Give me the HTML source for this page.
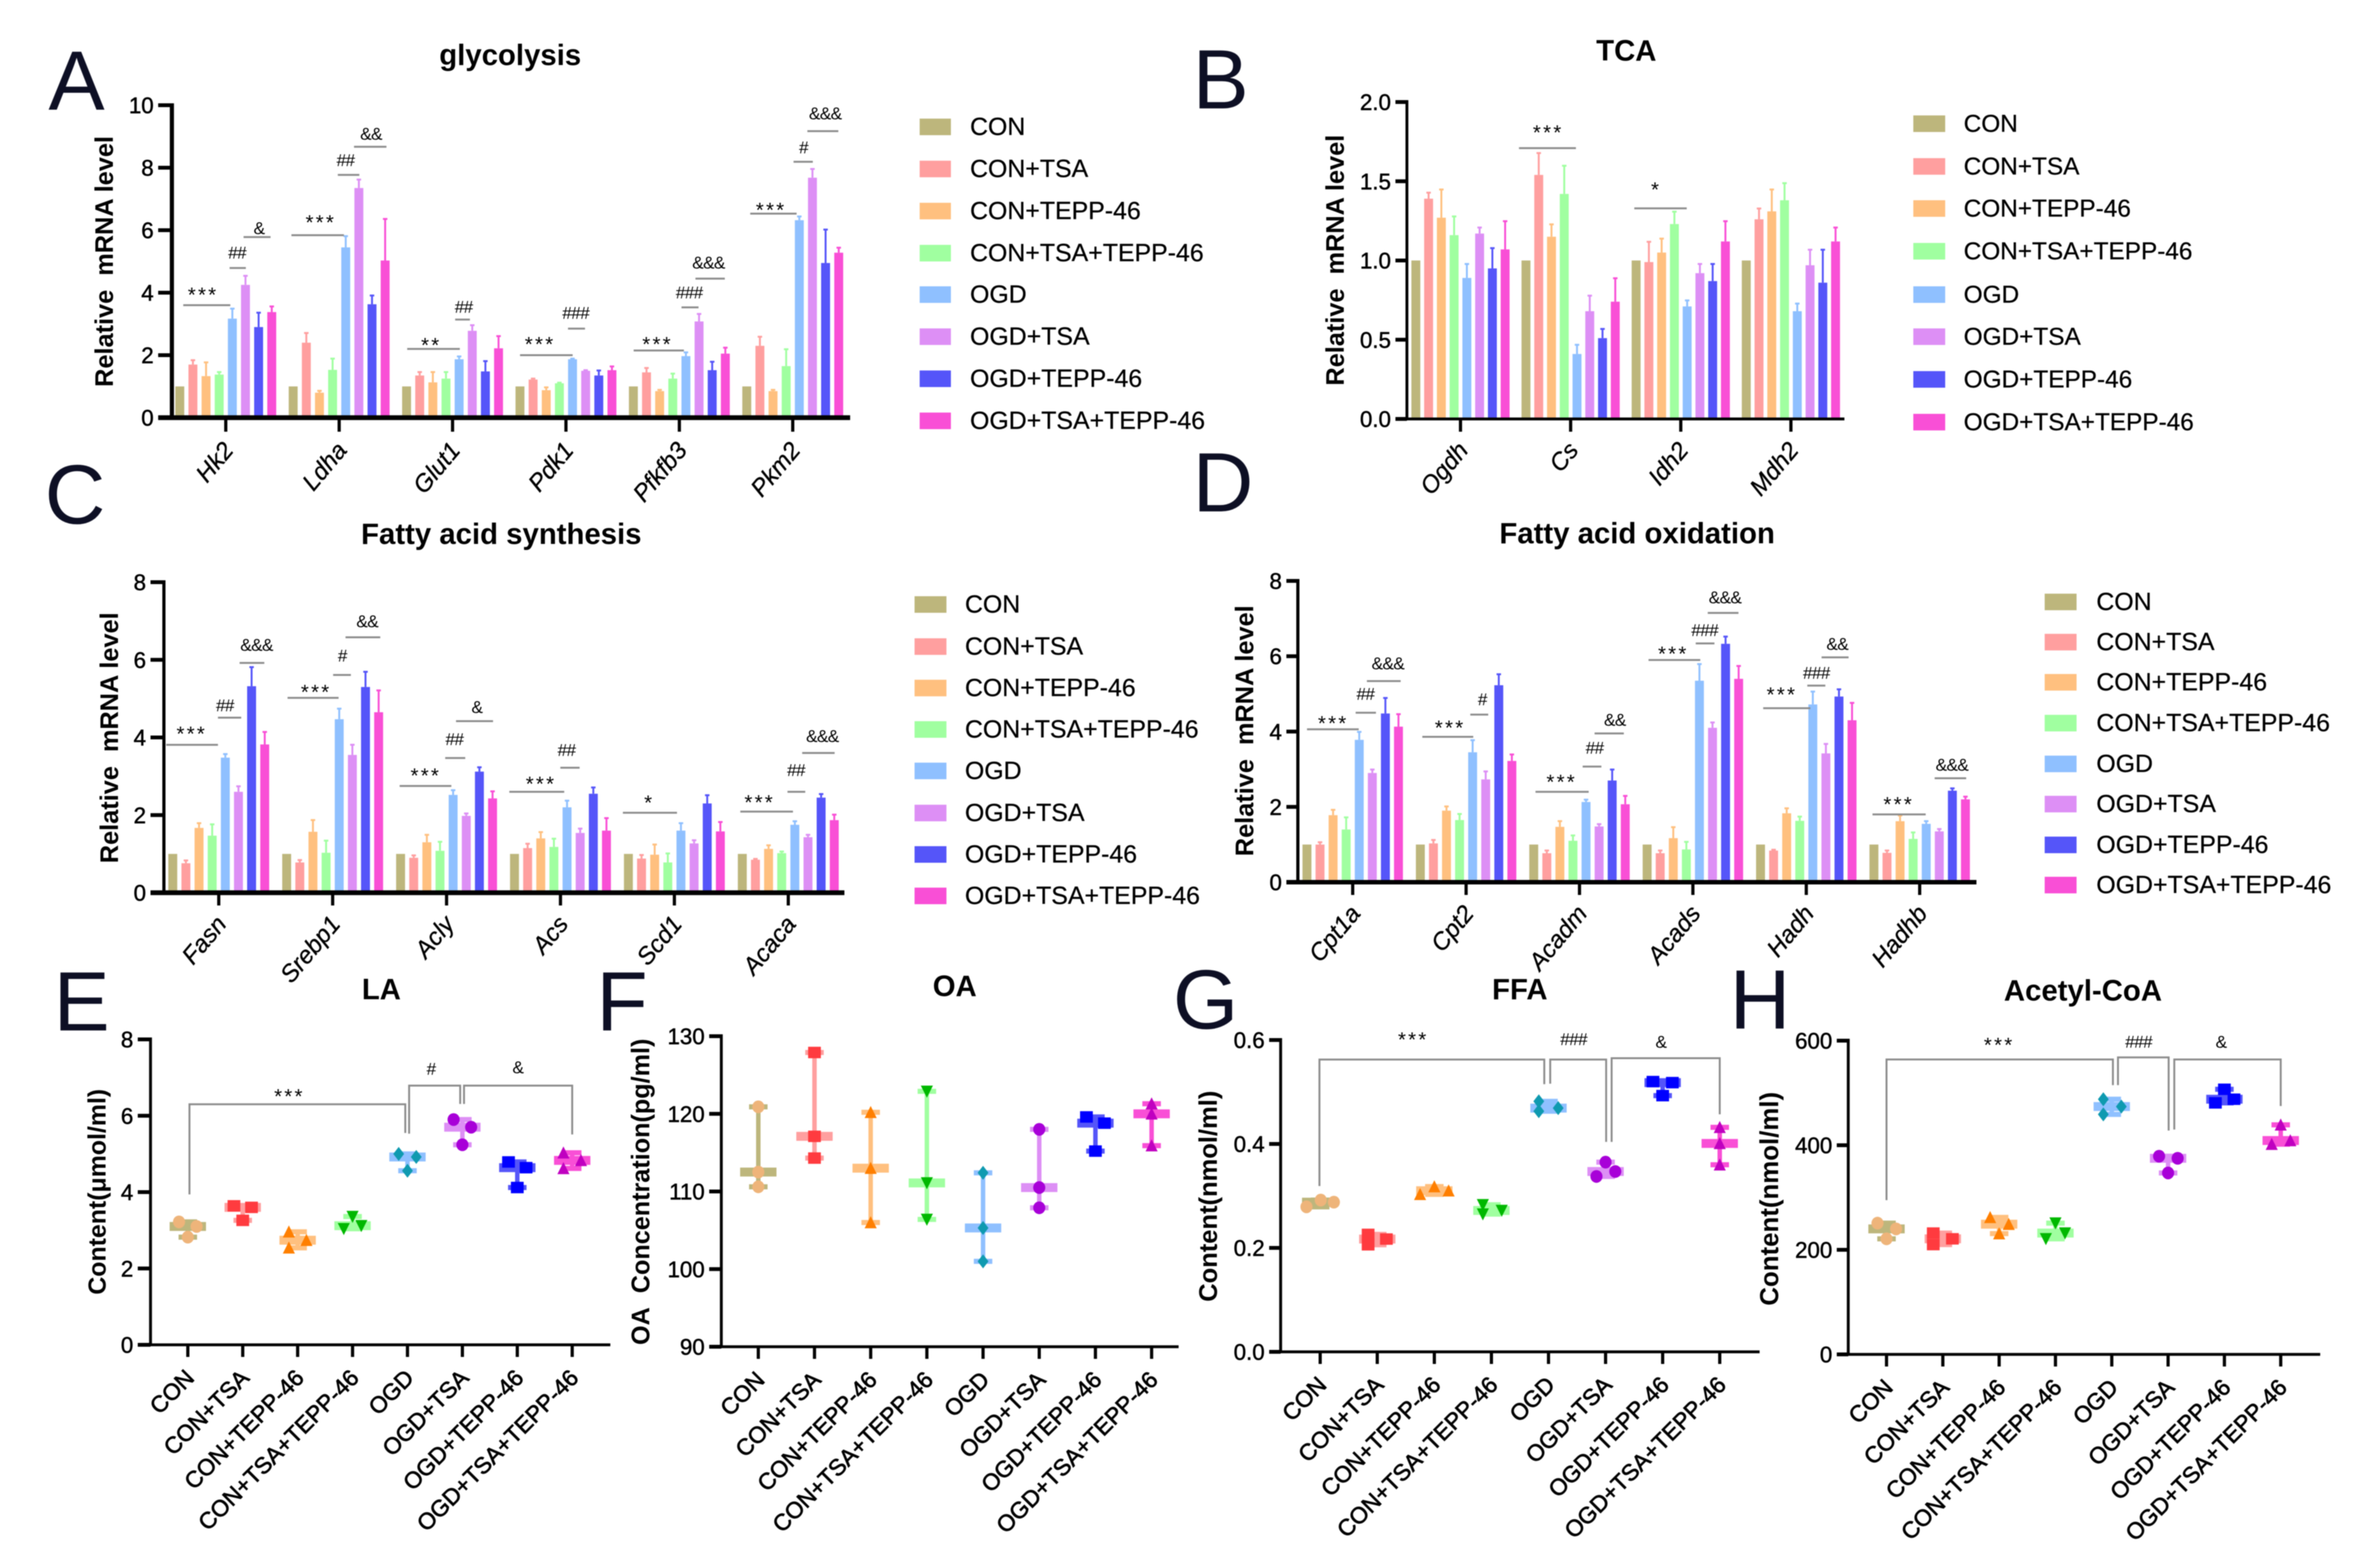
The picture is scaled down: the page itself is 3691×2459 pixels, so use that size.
<!DOCTYPE html>
<html lang="en">
<head>
<meta charset="utf-8">
<title>Metabolic gene expression and metabolite content</title>
<style>
html,body{margin:0;padding:0;background:#fff}
svg{display:block;filter:blur(.8px)}
text{font-family:"Liberation Sans",sans-serif;fill:#000}
.letter{font-size:132px;fill:#0d0f24}
.title{font-size:46px;font-weight:bold;text-anchor:middle;dominant-baseline:central}
.ytitle{font-size:39.7px;font-weight:bold;text-anchor:middle;dominant-baseline:central}
.leg{font-size:39px;dominant-baseline:central;stroke:#000;stroke-width:.4px}
.legb{font-size:38.2px}
.s0{fill:#bdb67c}.s1{fill:#ff9f9f}.s2{fill:#ffc07f}.s3{fill:#a0ffa0}.s4{fill:#8fc0ff}.s5{fill:#dd8ff5}.s6{fill:#5555f9}.s7{fill:#f94fd6}
</style>
</head>
<body>
<svg id="figure" xmlns="http://www.w3.org/2000/svg" width="3691" height="2459" viewBox="0 0 3691 2459">
<rect width="3691" height="2459" fill="#fff"/>

<text class="letter" x="76" y="172">A</text>
<text class="letter" x="1870" y="170">B</text>
<text class="letter" x="70" y="821">C</text>
<text class="letter" x="1870" y="802">D</text>
<text class="letter" x="84" y="1616">E</text>
<text class="letter" x="935" y="1616">F</text>
<text class="letter" x="1839" y="1613">G</text>
<text class="letter" x="2712" y="1613">H</text>

<text class="title" x="800" y="86">glycolysis</text>
<text class="title" x="2550" y="79">TCA</text>
<text class="title" x="786" y="837">Fatty acid synthesis</text>
<text class="title" x="2567" y="836">Fatty acid oxidation</text>
<text class="title" x="598" y="1551">LA</text>
<text class="title" x="1497" y="1546">OA</text>
<text class="title" x="2383" y="1551">FFA</text>
<text class="title" x="3266" y="1553">Acetyl-CoA</text>

<text class="ytitle" transform="translate(164 410) rotate(-90)">Relative&#160;&#160;mRNA level</text>
<text class="ytitle" transform="translate(2094 408) rotate(-90)">Relative&#160;&#160;mRNA level</text>
<text class="ytitle" transform="translate(172 1157) rotate(-90)">Relative&#160;&#160;mRNA level</text>
<text class="ytitle" transform="translate(1952 1146) rotate(-90)">Relative&#160;&#160;mRNA level</text>
<text class="ytitle" transform="translate(153 1869) rotate(-90)" style="font-size:39px">Content(μmol/ml)</text>
<text class="ytitle" transform="translate(1005 1869) rotate(-90)" style="font-size:39.5px">OA&#160;&#160;Concentration(pg/ml)</text>
<text class="ytitle" transform="translate(1895 1876) rotate(-90)" style="font-size:40px">Content(nmol/ml)</text>
<text class="ytitle" transform="translate(2774 1880) rotate(-90)" style="font-size:40.5px">Content(nmol/ml)</text>

<g>
<g><rect class="s0" x="1442" y="186" width="49" height="26"/><text class="leg" x="1521" y="199">CON</text></g>
<g><rect class="s1" x="1442" y="252" width="49" height="26"/><text class="leg" x="1521" y="265">CON+TSA</text></g>
<g><rect class="s2" x="1442" y="318" width="49" height="26"/><text class="leg" x="1521" y="331">CON+TEPP-46</text></g>
<g><rect class="s3" x="1442" y="384" width="49" height="26"/><text class="leg" x="1521" y="397">CON+TSA+TEPP-46</text></g>
<g><rect class="s4" x="1442" y="449" width="49" height="26"/><text class="leg" x="1521" y="462">OGD</text></g>
<g><rect class="s5" x="1442" y="515" width="49" height="26"/><text class="leg" x="1521" y="528">OGD+TSA</text></g>
<g><rect class="s6" x="1442" y="581" width="49" height="26"/><text class="leg" x="1521" y="594">OGD+TEPP-46</text></g>
<g><rect class="s7" x="1442" y="647" width="49" height="26"/><text class="leg" x="1521" y="660">OGD+TSA+TEPP-46</text></g>
</g>
<g>
<g><rect class="s0" x="3000" y="181" width="50" height="26"/><text class="leg legb" x="3079" y="194">CON</text></g>
<g><rect class="s1" x="3000" y="248" width="50" height="26"/><text class="leg legb" x="3079" y="261">CON+TSA</text></g>
<g><rect class="s2" x="3000" y="314" width="50" height="26"/><text class="leg legb" x="3079" y="327">CON+TEPP-46</text></g>
<g><rect class="s3" x="3000" y="381" width="50" height="26"/><text class="leg legb" x="3079" y="394">CON+TSA+TEPP-46</text></g>
<g><rect class="s4" x="3000" y="449" width="50" height="26"/><text class="leg legb" x="3079" y="462">OGD</text></g>
<g><rect class="s5" x="3000" y="515" width="50" height="26"/><text class="leg legb" x="3079" y="528">OGD+TSA</text></g>
<g><rect class="s6" x="3000" y="582" width="50" height="26"/><text class="leg legb" x="3079" y="595">OGD+TEPP-46</text></g>
<g><rect class="s7" x="3000" y="649" width="50" height="26"/><text class="leg legb" x="3079" y="662">OGD+TSA+TEPP-46</text></g>
</g>
<g>
<g><rect class="s0" x="1434" y="935" width="50" height="26"/><text class="leg" x="1513" y="948">CON</text></g>
<g><rect class="s1" x="1434" y="1001" width="50" height="26"/><text class="leg" x="1513" y="1014">CON+TSA</text></g>
<g><rect class="s2" x="1434" y="1066" width="50" height="26"/><text class="leg" x="1513" y="1079">CON+TEPP-46</text></g>
<g><rect class="s3" x="1434" y="1131" width="50" height="26"/><text class="leg" x="1513" y="1144">CON+TSA+TEPP-46</text></g>
<g><rect class="s4" x="1434" y="1196" width="50" height="26"/><text class="leg" x="1513" y="1209">OGD</text></g>
<g><rect class="s5" x="1434" y="1262" width="50" height="26"/><text class="leg" x="1513" y="1275">OGD+TSA</text></g>
<g><rect class="s6" x="1434" y="1327" width="50" height="26"/><text class="leg" x="1513" y="1340">OGD+TEPP-46</text></g>
<g><rect class="s7" x="1434" y="1392" width="50" height="26"/><text class="leg" x="1513" y="1405">OGD+TSA+TEPP-46</text></g>
</g>
<g>
<g><rect class="s0" x="3206" y="931" width="50" height="26"/><text class="leg" x="3287" y="944">CON</text></g>
<g><rect class="s1" x="3206" y="994" width="50" height="26"/><text class="leg" x="3287" y="1007">CON+TSA</text></g>
<g><rect class="s2" x="3206" y="1057" width="50" height="26"/><text class="leg" x="3287" y="1070">CON+TEPP-46</text></g>
<g><rect class="s3" x="3206" y="1121" width="50" height="26"/><text class="leg" x="3287" y="1134">CON+TSA+TEPP-46</text></g>
<g><rect class="s4" x="3206" y="1185" width="50" height="26"/><text class="leg" x="3287" y="1198">OGD</text></g>
<g><rect class="s5" x="3206" y="1248" width="50" height="26"/><text class="leg" x="3287" y="1261">OGD+TSA</text></g>
<g><rect class="s6" x="3206" y="1312" width="50" height="26"/><text class="leg" x="3287" y="1325">OGD+TEPP-46</text></g>
<g><rect class="s7" x="3206" y="1375" width="50" height="26"/><text class="leg" x="3287" y="1388">OGD+TSA+TEPP-46</text></g>
</g>
</svg>

<script>
// ---------- shared categories ----------
const treatments = ['CON','CON+TSA','CON+TEPP-46','CON+TSA+TEPP-46','OGD','OGD+TSA','OGD+TEPP-46','OGD+TSA+TEPP-46'];
const barColors = ['#bdb67c','#ff9f9f','#ffc07f','#a0ffa0','#8fc0ff','#dd8ff5','#5555f9','#f94fd6'];
const pointColors = ['#eeb47a','#ff3b3f','#ff7f00','#00b800','#0f9ab0','#a800d8','#0000ff','#c000c0'];

// ---------- panel A: glycolysis ----------
const genesA = ['Hk2','Ldha','Glut1','Pdk1','Pfkfb3','Pkm2'];
const ticksA = ['0','2','4','6','8','10'];
const meansA = [
 [1,1.7,1.33,1.38,3.17,4.25,2.9,3.38],
 [1,2.4,0.8,1.53,5.45,7.35,3.63,5.03],
 [1,1.35,1.13,1.25,1.87,2.78,1.48,2.22],
 [1,1.22,0.88,1.1,1.87,1.5,1.35,1.52],
 [1,1.45,0.85,1.25,1.97,3.08,1.52,2.05],
 [1,2.3,0.85,1.65,6.32,7.68,4.95,5.28]];
const upperA = [
 [1,1.85,1.78,1.47,3.5,4.55,3.37,3.57],
 [1,2.72,0.87,1.9,5.82,7.63,3.92,6.37],
 [1,1.47,1.47,1.47,1.97,2.97,1.82,2.62],
 [1,1.26,0.98,1.13,1.9,1.53,1.52,1.65],
 [1,1.6,0.9,1.42,2.1,3.33,1.8,2.25],
 [1,2.6,0.9,2.2,6.45,7.97,6.03,5.45]];
const sigA = [
 [-0.375,0.04,3.6,'***',-0.2,4.09],[0.034,0.177,4.79,'##',0.1,5.29],[0.157,0.395,5.78,'&',0.293,6.07],
 [0.579,1.042,5.84,'***',0.838,6.4],[0.988,1.178,7.77,'##',1.056,8.24],[1.131,1.417,8.67,'&&',1.281,9.09],
 [1.6,2.064,2.2,'**',1.812,2.47],[2.023,2.153,3.14,'##',2.098,3.55],
 [2.595,3.059,2.0,'***',2.772,2.5],[3.018,3.168,2.85,'###',3.086,3.36],
 [3.597,4.04,2.15,'***',3.808,2.5],[4.019,4.169,3.53,'###',4.087,4.01],[4.142,4.401,4.45,'&&&',4.257,4.97],
 [4.625,5.034,6.53,'***',4.809,6.8],[5.007,5.177,8.19,'#',5.095,8.65],[5.129,5.402,9.17,'&&&',5.286,9.75]];

// ---------- panel B: TCA ----------
const genesB = ['Ogdh','Cs','Idh2','Mdh2'];
const ticksB = ['0.0','0.5','1.0','1.5','2.0'];
const meansB = [
 [1,1.39,1.27,1.16,0.89,1.17,0.95,1.07],
 [1,1.54,1.15,1.42,0.41,0.68,0.51,0.74],
 [1,0.99,1.05,1.23,0.71,0.92,0.87,1.12],
 [1,1.26,1.31,1.38,0.68,0.97,0.86,1.12]];
const upperB = [
 [1,1.43,1.45,1.28,0.98,1.21,1.08,1.25],
 [1,1.68,1.23,1.6,0.47,0.78,0.57,0.89],
 [1,1.12,1.14,1.31,0.75,0.98,0.98,1.25],
 [1,1.33,1.45,1.49,0.73,1.07,1.07,1.21]];
const sigB = [[0.531,1.048,1.709,'***',0.796,1.838],[1.578,2.054,1.329,'*',1.776,1.477]];

// ---------- panel C: fatty acid synthesis ----------
const genesC = ['Fasn','Srebp1','Acly','Acs','Scd1','Acaca'];
const ticksC = ['0','2','4','6','8'];
const meansC = [
 [1,0.76,1.67,1.47,3.48,2.6,5.32,3.82],
 [1,0.78,1.57,1.03,4.47,3.55,5.3,4.65],
 [1,0.9,1.3,1.08,2.52,1.98,3.12,2.43],
 [1,1.15,1.4,1.18,2.2,1.54,2.55,1.6],
 [1,0.88,0.98,0.78,1.6,1.27,2.3,1.58],
 [1,0.85,1.13,1.02,1.75,1.43,2.45,1.87]];
const upperC = [
 [1,0.84,1.8,1.77,3.58,2.75,5.82,4.15],
 [1,0.85,1.88,1.35,4.75,3.82,5.7,5.22],
 [1,0.97,1.5,1.32,2.65,2.05,3.24,2.62],
 [1,1.27,1.57,1.4,2.38,1.66,2.72,1.93],
 [1,0.98,1.25,1.02,1.8,1.36,2.52,1.83],
 [1,0.88,1.23,1.07,1.85,1.5,2.55,2.02]];
const sigC = [
 [-0.461,-0.007,3.81,'***',-0.237,4.22],[-0.007,0.197,4.51,'##',0.054,4.83],[0.183,0.4,5.92,'&&&',0.332,6.39],
 [0.604,1.052,5.02,'***',0.855,5.29],[1.004,1.16,5.61,'#',1.085,6.11],[1.113,1.418,6.58,'&&',1.303,7.0],
 [1.588,2.042,2.75,'***',1.818,3.14],[1.988,2.164,3.47,'##',2.069,3.96],[2.083,2.408,4.42,'&',2.266,4.79],
 [2.551,3.033,2.6,'***',2.829,2.93],[2.999,3.168,3.22,'##',3.053,3.68],
 [3.548,4.023,2.06,'*',3.779,2.44],
 [4.579,5.041,2.09,'***',4.749,2.45],[4.993,5.149,2.6,'##',5.068,3.16],[5.122,5.407,3.6,'&&&',5.299,4.04]];

// ---------- panel D: fatty acid oxidation ----------
const genesD = ['Cpt1a','Cpt2','Acadm','Acads','Hadh','Hadhb'];
const ticksD = ['0','2','4','6','8'];
const meansD = [
 [1,1,1.78,1.4,3.78,2.9,4.48,4.13],
 [1,1.03,1.9,1.65,3.45,2.73,5.23,3.22],
 [1,0.77,1.47,1.1,2.13,1.48,2.7,2.07],
 [1,0.77,1.17,0.87,5.35,4.1,6.33,5.4],
 [1,0.84,1.83,1.63,4.72,3.42,4.93,4.3],
 [1,0.78,1.62,1.15,1.55,1.35,2.43,2.2]];
const upperD = [
 [1,1.07,1.93,1.73,4.0,3.0,4.9,4.47],
 [1,1.13,2.02,1.82,3.78,2.95,5.53,3.4],
 [1,0.85,1.63,1.25,2.2,1.55,3.0,2.3],
 [1,0.85,1.47,1.08,5.8,4.25,6.53,5.75],
 [1,0.87,1.97,1.75,5.07,3.68,5.13,4.77],
 [1,0.85,1.78,1.33,1.63,1.42,2.5,2.28]];
const sigD = [
 [-0.403,0.053,4.06,'***',-0.172,4.35],[0.026,0.205,4.5,'##',0.112,5.0],[0.125,0.423,5.34,'&&&',0.31,5.82],
 [0.614,1.063,3.86,'***',0.859,4.23],[1.037,1.195,4.45,'#',1.143,4.86],
 [1.612,2.081,2.4,'***',1.843,2.79],[2.028,2.193,3.07,'##',2.133,3.57],[2.133,2.391,3.95,'&&',2.312,4.32],
 [2.609,3.065,5.9,'***',2.827,6.19],[3.025,3.19,6.34,'###',3.104,6.7],[3.131,3.402,7.15,'&&&',3.283,7.57],
 [3.62,4.036,4.62,'***',3.785,5.11],[4.009,4.168,5.22,'###',4.089,5.56],[4.135,4.373,5.97,'&&',4.273,6.33],
 [4.584,5.053,1.8,'***',4.815,2.2],[5.132,5.41,2.76,'&&&',5.284,3.12]];

// ---------- panel E: LA ----------
const ticksE = ['0','2','4','6','8'];
const valuesE = [[3.22,3.10,2.82],[3.64,3.6,3.26],[2.96,2.74,2.54],[3.36,3.04,3.12],[5.0,4.92,4.56],[5.9,5.7,5.24],[4.79,4.64,4.12],[5.03,4.83,4.62]];
const jitterE = [[-0.16,0.16,0],[-0.16,0.16,0],[-0.16,0.16,-0.16],[0,-0.16,0.16],[-0.16,0.16,0],[-0.16,0.16,0],[-0.16,0.16,0],[-0.16,0.16,-0.16]];
// [left, right, top, leftDrop, rightDrop, label, labelX, labelY]
const bracketsE = [[0.03,3.96,6.3,3.94,5.55,'***',1.85,6.63],[4.03,4.96,6.79,5.53,6.31,'#',4.43,7.23],[5.03,7.0,6.79,6.31,5.51,'&',6.01,7.27]];

// ---------- panel F: OA ----------
const ticksF = ['90','100','110','120','130'];
const valuesF = [[120.9,112.5,110.6],[127.9,117.1,114.3],[120.2,113,106],[122.9,111.1,106.4],[112.4,105.3,101],[118,110.5,107.9],[119.6,118.8,115.2],[121.3,120,115.9]];
const jitterF = [[0,0,0],[0,0,0],[0,0,0],[0,0,0],[0,0,0],[0,0,0],[-0.16,0.16,0],[0,0,0]];
const bracketsF = [];

// ---------- panel G: FFA ----------
const ticksG = ['0.0','0.2','0.4','0.6'];
const valuesG = [[0.279,0.292,0.288],[0.226,0.206,0.217],[0.303,0.318,0.31],[0.283,0.265,0.272],[0.482,0.463,0.469],[0.3375,0.365,0.347],[0.52,0.518,0.493],[0.432,0.401,0.36]];
const jitterG = [[-0.24,0.01,0.24],[-0.16,-0.16,0.16],[-0.25,0,0.25],[-0.15,-0.15,0.18],[-0.17,-0.17,0.17],[-0.16,0,0.17],[-0.17,0.17,0],[0,0,0]];
const bracketsG = [[-0.013,3.926,0.5625,0.319,0.515,'***',1.63,0.61],[4.03,5.01,0.5625,0.516,0.404,'###',4.44,0.602],[5.106,7.0,0.565,0.404,0.457,'&',5.97,0.597]];

// ---------- panel H: Acetyl-CoA ----------
const ticksH = ['0','200','400','600'];
const valuesH = [[251,240,221],[232,221,210],[262,249,231],[251,232,221],[488,474,459],[379,375,347],[507,488,481],[439,409,402]];
const jitterH = [[-0.16,0.17,0],[-0.17,0.17,-0.17],[-0.16,0.17,0],[0,0.17,-0.17],[-0.15,0.17,-0.15],[-0.16,0.17,0],[0,0.17,-0.16],[0,0.17,-0.16]];
const bracketsH = [[0,4.02,564,295,515,'***',2.0,601],[4.11,5.01,568,515,428,'###',4.476,598],[5.11,7.0,564,430,475,'&',5.94,598]];

// ---------- layouts (pixel frame of each plot) ----------
const frameA = {id:'a',x0:354,dx:177.8,axisX:269.5,xStart:248,xEnd:1333,yBase:655,yTop:165,vMin:0,vMax:10,step:20.6,barW:14,axW:7.5,yW:6.5,tickLen:22};
const frameB = {id:'b',x0:2290,dx:172.7,axisX:2206,xStart:2188,xEnd:2892,yBase:657,yTop:160,vMin:0,vMax:2,step:20,barW:14,axW:4.5,yW:4.5,tickLen:20};
const frameC = {id:'c',x0:343,dx:178.6,axisX:257,xStart:236,xEnd:1324,yBase:1400,yTop:913,vMin:0,vMax:8,step:20.6,barW:14,axW:7.5,yW:5,tickLen:20};
const frameD = {id:'d',x0:2121,dx:177.8,axisX:2035,xStart:2017,xEnd:3099,yBase:1383.5,yTop:911,vMin:0,vMax:8,step:20.5,barW:14,axW:7,yW:5,tickLen:20};
const frameE = {id:'e',x0:294.5,dx:86.1,axisX:236,xStart:216,xEnd:957,yBase:2109,yTop:1630,vMin:0,vMax:8,axW:4.5,yW:4.5,tickLen:19};
const frameF = {id:'f',x0:1189,dx:88.1,axisX:1131,xStart:1112,xEnd:1848,yBase:2112,yTop:1625,vMin:90,vMax:130,axW:4.5,yW:4.5,tickLen:19};
const frameG = {id:'g',x0:2070,dx:89.5,axisX:2008,xStart:1990,xEnd:2759,yBase:2120,yTop:1631,vMin:0,vMax:0.6,axW:4.5,yW:4.5,tickLen:19};
const frameH = {id:'h',x0:2958,dx:88.3,axisX:2898,xStart:2880,xEnd:3638,yBase:2124,yTop:1632,vMin:0,vMax:600,axW:4.5,yW:4.5,tickLen:19};

const NS = 'http://www.w3.org/2000/svg';
const root = document.getElementById('figure');

function mk(tag, attrs, parent){
  const e = document.createElementNS(NS, tag);
  for (const k in attrs) e.setAttribute(k, attrs[k]);
  parent.appendChild(e);
  return e;
}
function yOf(f, v){ return f.yBase - (v - f.vMin) / (f.vMax - f.vMin) * (f.yBase - f.yTop); }
function xOf(f, u){ return f.x0 + u * f.dx; }

function drawAxes(f, tickLabels, catLabels, labelOpts){
  const g = mk('g', {}, root);
  
  
  const yLine = mk('rect', {x:f.axisX - f.yW/2, y:f.yTop - 3, width:f.yW, height:f.yBase - f.yTop + 3, fill:'#000'}, g);
  
  
  const xLine = mk('rect', {x:f.xStart, y:f.yBase - f.axW/2, width:f.xEnd - f.xStart, height:f.axW, fill:'#000'}, g);
  
  
  tickLabels.forEach(function(lab){
    const y = yOf(f, parseFloat(lab));
    const t = mk('rect', {x:f.xStart, y:y - 3, width:f.axisX - f.xStart, height:6, fill:'#000'}, g);
    
    
    const l = mk('text', {x:f.xStart - 7, y:y + 12.5, 'text-anchor':'end', 'font-size':35, stroke:'#000', 'stroke-width':0.7}, g);
    l.textContent = lab;
    
    
  });
  catLabels.forEach(function(lab, i){
    const x = xOf(f, i);
    const bottom = f.yBase + f.tickLen;
    const t = mk('rect', {x:x - 2.5, y:f.yBase, width:5, height:f.tickLen, fill:'#000'}, g);
    
    
    const ax = x + labelOpts.dx;
    const ay = bottom + labelOpts.dy;
    const l = mk('text', {x:ax, y:ay, 'text-anchor':'end', 'font-size':labelOpts.size, 'font-style':labelOpts.style, transform:'rotate(' + labelOpts.angle + ' ' + ax + ' ' + ay + ')', stroke:'#000', 'stroke-width':labelOpts.weight}, g);
    l.textContent = lab;
    
    
  });
}

function drawLabel(g, f, text, u, v){
  const isStar = text.charAt(0) === '*';
  const size = isStar ? 32 : 27;
  const base = yOf(f, v) + (isStar ? 18.7 : 9.5);
  const l = mk('text', {x:xOf(f, u), y:base, 'text-anchor':'middle', 'font-size':size, 'letter-spacing':isStar ? 3.5 : -1}, g);
  l.textContent = text;
  
  
}

function drawBars(f, means, upper, sig){
  const g = mk('g', {}, root);
  
  
  means.forEach(function(row, i){
    row.forEach(function(v, s){
      const cx = xOf(f, i) + (s - 3.5) * f.step;
      const top = yOf(f, v);
      const up = yOf(f, upper[i][s]);
      const bar = mk('rect', {x:cx - f.barW/2, y:top, width:f.barW, height:f.yBase - top, fill:barColors[s]}, g);
      
      
      if (up < top - 0.5){
        const stem = mk('rect', {x:cx - 1.5, y:up, width:3, height:top - up, fill:barColors[s]}, g);
        
        
        const cap = mk('rect', {x:cx - 3.5, y:up - 1, width:7, height:3, fill:barColors[s]}, g);
        
        
      }
    });
  });
  sig.forEach(function(a){
    const y = yOf(f, a[2]);
    const line = mk('rect', {x:xOf(f, a[0]), y:y - 1.5, width:xOf(f, a[1]) - xOf(f, a[0]), height:3, fill:'#8c8c8c'}, g);
    
    
    drawLabel(g, f, a[3], a[4], a[5]);
  });
}

function drawMarker(g, shape, cx, cy, color){
  let m;
  if (shape === 'circle') {
    m = mk('ellipse', {cx:cx, cy:cy, rx:9.5, ry:10, fill:color}, g);
  } else if (shape === 'square') {
    m = mk('rect', {x:cx - 10, y:cy - 9, width:20, height:18, fill:color}, g);
  } else if (shape === 'up') {
    m = mk('polygon', {points:(cx - 9.5) + ',' + (cy + 9) + ' ' + (cx + 9.5) + ',' + (cy + 9) + ' ' + cx + ',' + (cy - 10), fill:color}, g);
  } else if (shape === 'down') {
    m = mk('polygon', {points:(cx - 9.5) + ',' + (cy - 9) + ' ' + (cx + 9.5) + ',' + (cy - 9) + ' ' + cx + ',' + (cy + 10), fill:color}, g);
  } else {
    m = mk('polygon', {points:(cx - 8.5) + ',' + cy + ' ' + cx + ',' + (cy - 11) + ' ' + (cx + 8.5) + ',' + cy + ' ' + cx + ',' + (cy + 11), fill:color}, g);
  }
  
  
}

const markerShapes = ['circle','square','up','down','diamond','circle','square','up'];

function drawScatter(f, values, jitter, brackets){
  const g = mk('g', {}, root);
  
  
  brackets.forEach(function(b){
    const pts = [xOf(f, b[0]), yOf(f, b[3]), xOf(f, b[0]), yOf(f, b[2]), xOf(f, b[1]), yOf(f, b[2]), xOf(f, b[1]), yOf(f, b[4])];
    const line = mk('polyline', {points:pts.join(' '), fill:'none', stroke:'#8c8c8c', 'stroke-width':3}, g);
    
    
    drawLabel(g, f, b[5], b[6], b[7]);
  });
  values.forEach(function(vals, i){
    const sorted = vals.slice().sort(function(a, b){ return a - b; });
    const cx = xOf(f, i);
    const yLow = yOf(f, sorted[0]);
    const yMid = yOf(f, sorted[1]);
    const yHigh = yOf(f, sorted[2]);
    const stem = mk('rect', {x:cx - 3.5, y:yHigh, width:7, height:yLow - yHigh, fill:barColors[i]}, g);
    
    
    [yLow, yHigh].forEach(function(y){
      const cap = mk('rect', {x:cx - 14.5, y:y - 4, width:29, height:8, fill:barColors[i]}, g);
      
      
    });
    const box = mk('rect', {x:cx - 28.5, y:yMid - 7, width:57, height:14, fill:barColors[i]}, g);
    
    
    vals.forEach(function(v, k){
      drawMarker(g, markerShapes[i], cx + jitter[i][k] * f.dx, yOf(f, v), pointColors[i]);
    });
  });
}

const geneLabel = {size:38, style:'italic', dx:14, dy:30, angle:-50, weight:0.5};
const groupLabel = {size:36, style:'normal', dx:12, dy:35, angle:-45, weight:1};

drawBars(frameA, meansA, upperA, sigA);
drawAxes(frameA, ticksA, genesA, geneLabel);
drawBars(frameB, meansB, upperB, sigB);
drawAxes(frameB, ticksB, genesB, geneLabel);
drawBars(frameC, meansC, upperC, sigC);
drawAxes(frameC, ticksC, genesC, geneLabel);
drawBars(frameD, meansD, upperD, sigD);
drawAxes(frameD, ticksD, genesD, geneLabel);

drawAxes(frameE, ticksE, treatments, groupLabel);
drawScatter(frameE, valuesE, jitterE, bracketsE);
drawAxes(frameF, ticksF, treatments, groupLabel);
drawScatter(frameF, valuesF, jitterF, bracketsF);
drawAxes(frameG, ticksG, treatments, groupLabel);
drawScatter(frameG, valuesG, jitterG, bracketsG);
drawAxes(frameH, ticksH, treatments, groupLabel);
drawScatter(frameH, valuesH, jitterH, bracketsH);
</script>
</body>
</html>
